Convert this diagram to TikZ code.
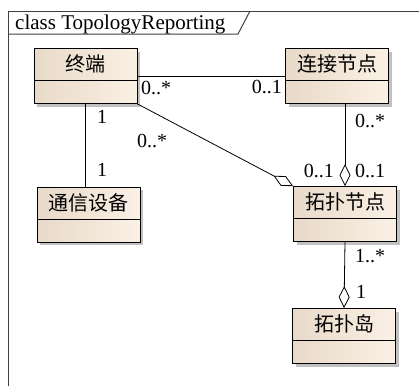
\documentclass[tikz,border=0pt]{standalone}
\usepackage{fontspec}
\setmainfont{Liberation Serif}
\newfontfamily\cjk{Noto Sans CJK SC}
\usetikzlibrary{arrows.meta,shadows}
\definecolor{boxleft}{HTML}{E8DAC9}
\definecolor{boxright}{HTML}{FAF0E4}
\definecolor{framegray}{HTML}{404040}
\tikzset{
  classbox/.style={draw, line width=0.8pt, inner sep=0pt, minimum width=103pt,
    text height=23pt, text depth=32pt, left color=boxleft, right color=boxright,
    font=\cjk\fontsize{20}{24}\selectfont,
    drop shadow={shadow xshift=3pt, shadow yshift=-3pt, fill=black!30, opacity=0.8},
    path picture={\draw[line width=0.8pt]
      ([yshift=-32pt]path picture bounding box.north west) --
      ([yshift=-32pt]path picture bounding box.north east);}},
  mult/.style={inner sep=0pt, font=\fontsize{20}{24}\selectfont},
  agg/.style={-{Diamond[open, length=22pt, width=11pt, line width=0.8pt]}},
  assoc/.style={line width=0.8pt},
}
\begin{document}
\begin{tikzpicture}[x=1pt, y=-1pt]
  \useasboundingbox (0,0) rectangle (419,386);

  % frame and its tab
  \draw[framegray, line width=1pt] (8,386) -- (8,11) -- (419,11);
  \draw[framegray, line width=1pt] (8,34) -- (238,34) -- (250,11);
  \node[anchor=base west, inner sep=0pt, font=\fontsize{21}{25}\selectfont]
    (title) at (15,29) {class TopologyReporting};

  % classes
  \node[classbox] (zhongduan) at (85.5,76) {终端};
  \node[classbox] (lianjie) at (337,76) {连接节点};
  \node[classbox] (tongxin) at (88.5,214.5) {通信设备};
  \node[classbox] (tuopu) at (345,214) {拓扑节点};
  \node[classbox] (dao) at (344,336) {拓扑岛};

  % associations
  \draw[assoc] (zhongduan) -- (lianjie);
  \draw[assoc] (zhongduan.south) -- (zhongduan.south |- tongxin.north);
  \draw[assoc, agg] (zhongduan.south east) -- (tuopu.north west);
  \draw[assoc, agg] (tuopu.north |- lianjie.south) -- (tuopu.north);
  \draw[assoc, agg] (tuopu.south) -- (dao.north);

  % multiplicities
  \node[mult, anchor=base west] (m1) at (141,94) {0..*};
  \node[mult, anchor=base east] (m2) at (282,93) {0..1};
  \node[mult, anchor=base west] (m3) at (97,123) {1};
  \node[mult, anchor=base west] (m4) at (97,176) {1};
  \node[mult, anchor=base west] (m5) at (137,147) {0..*};
  \node[mult, anchor=base west] (m6) at (355,127) {0..*};
  \node[mult, anchor=base east] (m7) at (334,177) {0..1};
  \node[mult, anchor=base west] (m8) at (355,177) {0..1};
  \node[mult, anchor=base west] (m9) at (355,262) {1..*};
  \node[mult, anchor=base west] (m10) at (356,298) {1};
\end{tikzpicture}
\end{document}
